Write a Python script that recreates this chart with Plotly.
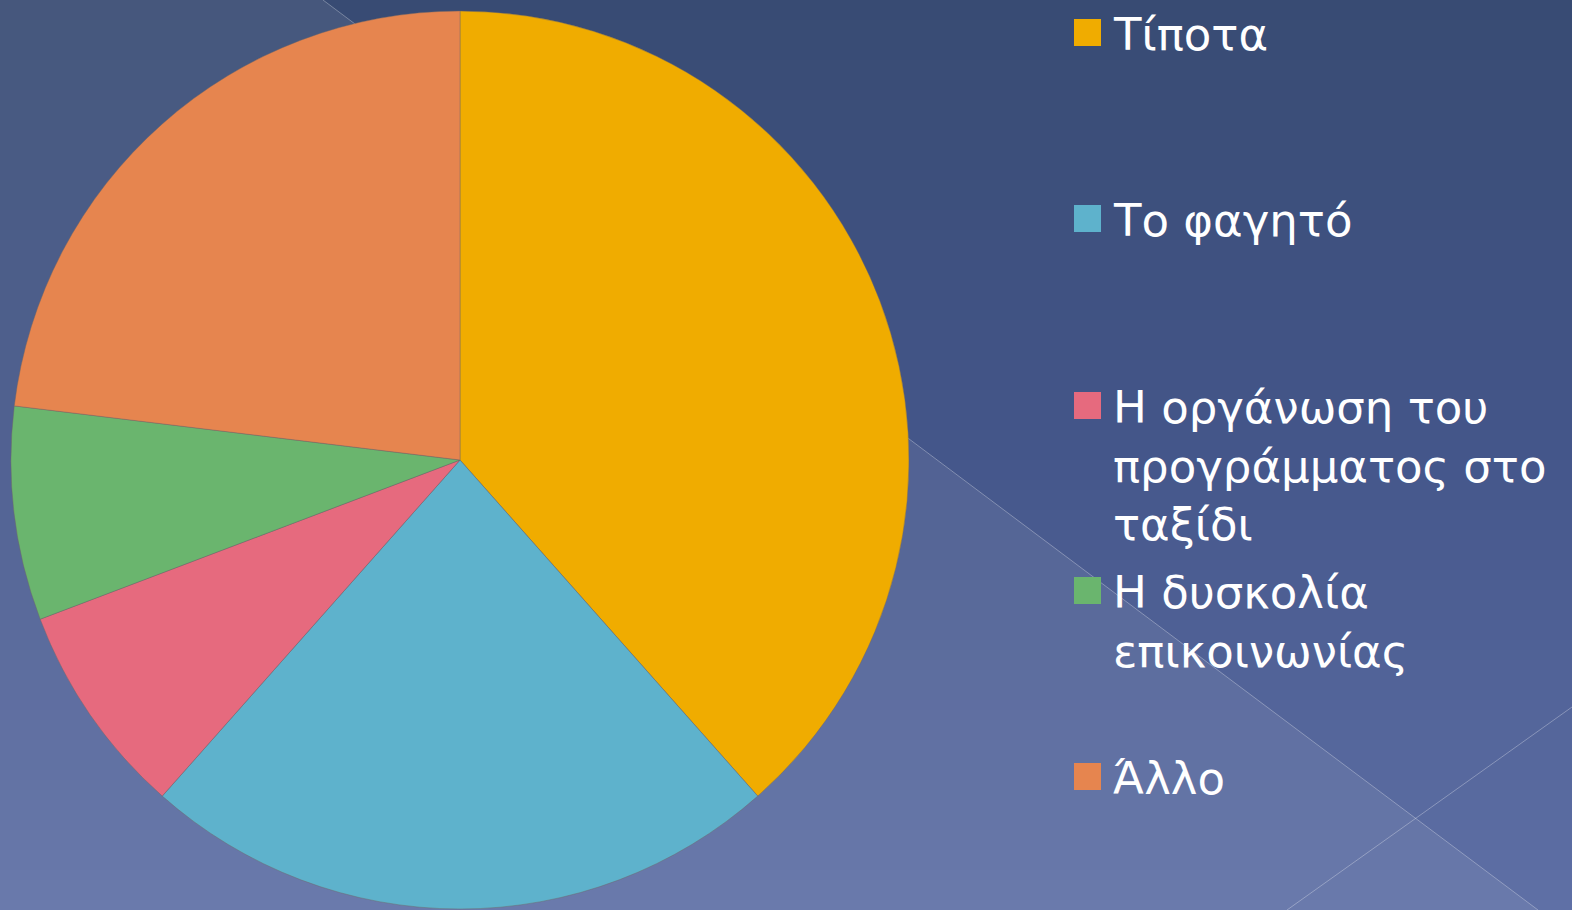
import plotly.graph_objects as go

# ---- data ----
categories = ["Τίποτα", "Το φαγητό", "Η οργάνωση του προγράμματος στο ταξίδι",
              "Η δυσκολία επικοινωνίας", "Άλλο"]
legend_labels = ["Τίποτα", "Το φαγητό", "Η οργάνωση του<br>προγράμματος στο<br>ταξίδι",
                 "Η δυσκολία<br>επικοινωνίας", "Άλλο"]
values = [5, 3, 1, 1, 3]
colors = ["#F0AC00", "#5EB2CC", "#E66A7E", "#6AB56E", "#E6854F"]

W, H = 1572, 910

def px(x):
    return x / W

def py(y):
    return 1 - y / H

def hex2rgb(h):
    h = h.lstrip("#")
    return tuple(int(h[i:i + 2], 16) for i in (0, 2, 4))

def lerp(c1, c2, t):
    return tuple(round(a + (b - a) * t) for a, b in zip(c1, c2))

fig = go.Figure()
fig.add_trace(go.Pie(
    labels=categories,
    values=values,
    marker=dict(colors=colors, line=dict(color="rgba(110,100,100,0.55)", width=0.8)),
    sort=False,
    direction="clockwise",
    rotation=0,
    textinfo="none",
    hoverinfo="label+percent",
    showlegend=False,
    domain=dict(x=[px(11), px(909)], y=[py(909), py(11)]),
))

shapes = []
# background vertical gradient (styling)
stops = [(0, hex2rgb("#384b73")), (450, hex2rgb("#44568a")), (910, hex2rgb("#5f70a6"))]
step = 10
for y0 in range(0, H, step):
    yc = y0 + step / 2
    if yc <= 450:
        c = lerp(stops[0][1], stops[1][1], yc / 450)
    else:
        c = lerp(stops[1][1], stops[2][1], (yc - 450) / 460)
    shapes.append(dict(type="rect", xref="paper", yref="paper", layer="below",
                       x0=0, x1=1, y0=py(y0 + step), y1=py(y0),
                       fillcolor="rgb(%d,%d,%d)" % c, line=dict(width=0)))

# lighter lower-left region under the diagonal
x_top, x_bot = 323, 1538
shapes.append(dict(type="path", xref="paper", yref="paper", layer="below",
                   path="M 0 1 L %f 1 L %f 0 L 0 0 Z" % (px(x_top), px(x_bot)),
                   fillcolor="rgba(255,255,255,0.07)", line=dict(width=0)))
# diagonal decorative lines
shapes.append(dict(type="line", xref="paper", yref="paper", layer="below",
                   x0=px(x_top), y0=1, x1=px(x_bot), y1=0,
                   line=dict(color="rgba(255,255,255,0.3)", width=1)))
shapes.append(dict(type="line", xref="paper", yref="paper", layer="below",
                   x0=1, y0=py(707), x1=px(1287), y1=0,
                   line=dict(color="rgba(255,255,255,0.3)", width=1)))

# legend (manual)
baselines = [49, 235, 422, 607, 793]
annotations = []
for lab, col, b in zip(legend_labels, colors, baselines):
    sq_top = b - 30
    shapes.append(dict(type="rect", xref="paper", yref="paper", layer="above",
                       x0=px(1074), x1=px(1101), y0=py(sq_top + 27), y1=py(sq_top),
                       fillcolor=col, line=dict(width=0)))
    annotations.append(dict(xref="paper", yref="paper", x=px(1111), y=py(b - 43),
                            xanchor="left", yanchor="top", align="left",
                            showarrow=False, text=lab,
                            font=dict(family="DejaVu Sans", size=45, color="white")))

fig.update_layout(
    width=W, height=H,
    margin=dict(l=0, r=0, t=0, b=0),
    paper_bgcolor="#44568a",
    plot_bgcolor="rgba(0,0,0,0)",
    shapes=shapes,
    annotations=annotations,
    showlegend=False,
)

fig.write_html("out.html",
               config={"displayModeBar": False},
               post_script="document.body.style.margin='0';document.body.style.overflow='hidden';")
